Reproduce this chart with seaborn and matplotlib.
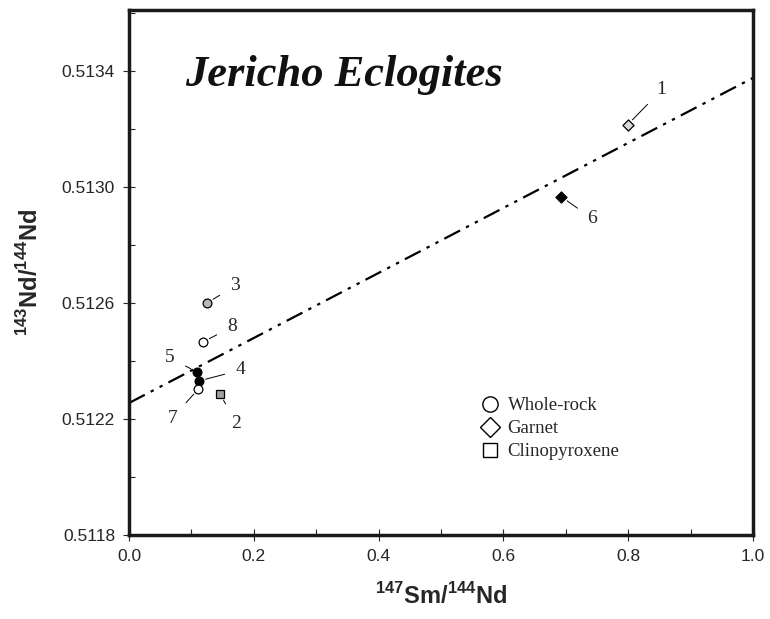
import matplotlib
matplotlib.use("Agg")
import matplotlib.pyplot as plt
from matplotlib.ticker import MultipleLocator, FixedLocator
import seaborn as sns
import pandas as pd

# ---- data ----
sample_ids = ["1", "2", "3", "4", "5", "6", "7", "8"]
sm_nd = [0.799, 0.146, 0.125, 0.112, 0.109, 0.693, 0.111, 0.119]
nd_nd = [0.513214, 0.512286, 0.512600, 0.512331, 0.512362, 0.512966, 0.512303, 0.512466]
mineral = ["Garnet", "Clinopyroxene", "Whole-rock", "Whole-rock", "Whole-rock",
           "Garnet", "Whole-rock", "Whole-rock"]
fill = ["#d8d8d8", "#a0a0a0", "#b8b8b8", "black", "black", "black", "white", "white"]
label_dx = [34, 16, 28, 42, -27, 31, -26, 29]
label_dy = [35, -29, 17, 11, 14, -22, -29, 15]

iso_x = [0.0, 1.0]
iso_y = [0.512255, 0.513376]

legend_labels = ["Whole-rock", "Garnet", "Clinopyroxene"]

xticks = [0.0, 0.2, 0.4, 0.6, 0.8, 1.0]
yticks = [0.5118, 0.5122, 0.5126, 0.5130, 0.5134]

df = pd.DataFrame({"x": sm_nd, "y": nd_nd, "mineral": mineral, "fill": fill, "id": sample_ids})

sns.set_style("ticks")
plt.rcParams["font.family"] = ["Liberation Sans", "DejaVu Sans"]
plt.rcParams["mathtext.fontset"] = "custom"
plt.rcParams["mathtext.rm"] = "Liberation Sans"
plt.rcParams["mathtext.bf"] = "Liberation Sans:bold"

fig = plt.figure(figsize=(7.7, 6.19), dpi=100)
ax = fig.add_axes([129 / 770, 84 / 619, (753 - 129) / 770, (609 - 84) / 619])

sns.lineplot(x=iso_x, y=iso_y, ax=ax, color="black", lw=1.6,
             dashes=False, legend=False)
ax.lines[-1].set_dashes([8, 3, 1.5, 3, 1.5, 3])

markers = {"Whole-rock": "o", "Garnet": "D", "Clinopyroxene": "s"}
sizes = {"Whole-rock": 40, "Garnet": 32, "Clinopyroxene": 32}
for _, r in df.iterrows():
    sns.scatterplot(x=[r["x"]], y=[r["y"]], ax=ax, marker=markers[r["mineral"]],
                    s=sizes[r["mineral"]], color=r["fill"], edgecolor="black",
                    linewidth=0.9, legend=False, zorder=3)

# labels with leader lines
for r, dx, dy in zip(df.itertuples(), label_dx, label_dy):
    ax.annotate(r.id, xy=(r.x, r.y), xytext=(dx, dy), textcoords="offset pixels",
                ha="center", va="center", fontsize=14, family="Liberation Serif",
                arrowprops=dict(arrowstyle="-", color="black", lw=0.7,
                                shrinkA=6, shrinkB=5))

ax.set_xlim(0, 1.0)
ax.set_ylim(0.5118, 0.51361)
ax.xaxis.set_major_locator(FixedLocator(xticks))
ax.yaxis.set_major_locator(FixedLocator(yticks))
ax.xaxis.set_minor_locator(MultipleLocator(0.1))
ax.yaxis.set_minor_locator(MultipleLocator(0.0002))
ax.set_xticklabels([f"{v:.1f}" for v in xticks])
ax.set_yticklabels([f"{v:.4f}" for v in yticks])
ax.tick_params(which="major", direction="inout", length=8, width=0.8,
               labelsize=12.5, pad=6)
ax.tick_params(which="minor", direction="in", length=4, width=0.8)
for sp in ax.spines.values():
    sp.set_visible(True)
    sp.set_linewidth(2.5)
    sp.set_color("#1a1a1a")

ax.set_xlabel(r"$^{\mathbf{147}}$Sm/$^{\mathbf{144}}$Nd", fontsize=17, fontweight="bold", labelpad=14)
ax.set_ylabel(r"$^{\mathbf{143}}$Nd/$^{\mathbf{144}}$Nd", fontsize=17, fontweight="bold", labelpad=14)

ax.text(0.09, 0.876, "Jericho Eclogites", transform=ax.transAxes, fontsize=32,
        family="Liberation Serif", fontweight="bold", fontstyle="italic",
        ha="left", va="center", color="#111111")

# legend
handles = [plt.Line2D([], [], marker=m, ls="", mfc="white", mec="black", mew=1.0, ms=ms)
           for m, ms in zip(["o", "D", "s"], [11, 10, 10])]
leg = ax.legend(handles, legend_labels, loc="upper left", bbox_to_anchor=(0.533, 0.295),
                frameon=False, prop={"family": "Liberation Serif", "size": 13.5},
                handletextpad=0.35, labelspacing=0.32, handlelength=1.2)

fig.savefig("out.png", dpi=100)
